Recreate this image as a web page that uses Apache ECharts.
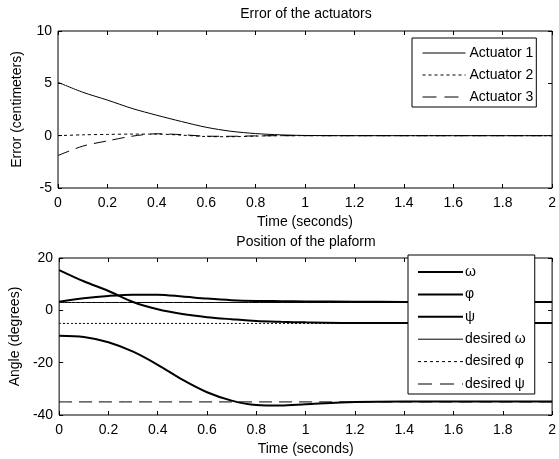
<!DOCTYPE html>
<html>
<head>
<meta charset="utf-8">
<script src="https://cdn.jsdelivr.net/npm/echarts@6/dist/echarts.min.js"></script>
<style>
  html, body { margin: 0; padding: 0; background: #fff; }
  #main { width: 559px; height: 459px; }
</style>
</head>
<body>
<div id="main"></div>
<script>
// time samples (seconds)
var times = [0, 0.1, 0.2, 0.3, 0.4, 0.5, 0.6, 0.7, 0.8, 0.9, 1.0, 1.2, 1.4, 1.6, 1.8, 2.0]

// top plot: actuator errors (cm)
var actuator1 = [5.1, 4.15, 3.4, 2.6, 1.95, 1.35, 0.8, 0.42, 0.2, 0.08, 0.02, 0, 0, 0, 0, 0]
var actuator2 = [0, 0.08, 0.12, 0.15, 0.15, 0.05, -0.08, -0.1, -0.04, 0, 0, 0, 0, 0, 0, 0]
var actuator3 = [-1.9, -1.0, -0.5, -0.05, 0.18, 0.1, -0.05, -0.06, -0.02, 0, 0, 0, 0, 0, 0, 0]

// bottom plot: platform angles (degrees)
var omega = [3.3, 4.6, 5.5, 6.0, 6.0, 5.3, 4.5, 3.9, 3.6, 3.5, 3.4, 3.3, 3.2, 3.2, 3.2, 3.2]
var phi = [15.4, 11.1, 7.4, 3.2, 0.4, -1.4, -2.6, -3.4, -4.1, -4.4, -4.6, -4.8, -4.8, -4.8, -4.8, -4.8]
var psi = [-9.7, -10.2, -12.2, -15.8, -20.8, -26.5, -31.3, -34.5, -36.2, -36.4, -35.9, -35.0, -34.8, -34.8, -34.8, -34.8]
var desiredOmega = 3
var desiredPhi = -5
var desiredPsi = -35

function pairs(vals) {
  return times.map(function (t, i) { return [t, vals[i]] })
}
function flat(v) {
  return [[0, v], [2, v]]
}

var font = 'Liberation Sans, Arial, sans-serif'
var txt = { color: '#000', fontFamily: font, fontSize: 14 }
var dotted = [3, 3]
var dashed = [14, 8]

function xAxisFor(gridIndex, pos, showLabel) {
  return {
    type: 'value', gridIndex: gridIndex, position: pos,
    min: 0, max: 2, interval: 0.2,
    name: showLabel ? 'Time (seconds)' : '', nameLocation: 'middle', nameGap: 27,
    nameTextStyle: txt,
    axisLine: { show: false, onZero: false },
    axisTick: { show: true, inside: true, length: 4, lineStyle: { color: '#000' } },
    axisLabel: { show: showLabel, color: '#000', fontFamily: font, fontSize: 14, margin: 8 },
    splitLine: { show: false }
  }
}
function yAxisFor(gridIndex, pos, min, max, step, name) {
  return {
    type: 'value', gridIndex: gridIndex, position: pos,
    min: min, max: max, interval: step,
    name: name, nameLocation: 'middle', nameGap: 34,
    nameTextStyle: txt,
    axisLine: { show: false, onZero: false },
    axisTick: { show: true, inside: true, length: 4, lineStyle: { color: '#000' } },
    axisLabel: { show: pos === 'left', color: '#000', fontFamily: font, fontSize: 14, margin: 6 },
    splitLine: { show: false }
  }
}

function line(name, vals, xi, yi, width, type) {
  return {
    name: name, type: 'line', xAxisIndex: xi, yAxisIndex: yi,
    data: vals, symbol: 'none', smooth: 0.3, color: '#000',
    lineStyle: { color: '#000', width: width, type: type }
  }
}
function legendItem(name, width, type) {
  return { name: name, lineStyle: { color: '#000', width: width, type: type } }
}

var myChart = echarts.init(document.getElementById('main'))
var option = {
  backgroundColor: '#fff',
  animation: false,
  title: [
    { text: 'Error of the actuators', left: 306, top: 7, padding: 0, textAlign: 'center',
      textStyle: { color: '#000', fontFamily: font, fontSize: 14, fontWeight: 'normal' } },
    { text: 'Position of the plaform', left: 306, top: 235, padding: 0, textAlign: 'center',
      textStyle: { color: '#000', fontFamily: font, fontSize: 14, fontWeight: 'normal' } }
  ],
  grid: [
    { left: 58, top: 31, width: 496, height: 157, show: true, borderColor: '#000', borderWidth: 1, backgroundColor: '#fff' },
    { left: 58, top: 258, width: 496, height: 157, show: true, borderColor: '#000', borderWidth: 1, backgroundColor: '#fff' }
  ],
  xAxis: [
    xAxisFor(0, 'bottom', true),
    xAxisFor(0, 'top', false),
    xAxisFor(1, 'bottom', true),
    xAxisFor(1, 'top', false)
  ],
  yAxis: [
    yAxisFor(0, 'left', -5, 10, 5, 'Error (centimeters)'),
    yAxisFor(0, 'right', -5, 10, 5, ''),
    yAxisFor(1, 'left', -40, 20, 20, 'Angle (degrees)'),
    yAxisFor(1, 'right', -40, 20, 20, '')
  ],
  legend: [
    {
      data: [
        legendItem('Actuator 1', 1, 'solid'),
        legendItem('Actuator 2', 1, dotted),
        legendItem('Actuator 3', 1, dashed)
      ],
      orient: 'vertical', left: 412, top: 38,
      itemWidth: 43, itemHeight: 14, itemGap: 8,
      padding: [8, 3, 3, 10],
      borderColor: '#000', borderWidth: 1, backgroundColor: '#fff',
      itemStyle: { opacity: 0 },
      textStyle: { color: '#000', fontFamily: font, fontSize: 14, padding: [0, 0, 0, -1] }
    },
    {
      data: [
        legendItem('ω', 2, 'solid'),
        legendItem('φ', 2, 'solid'),
        legendItem('ψ', 2, 'solid'),
        legendItem('desired ω', 1, 'solid'),
        legendItem('desired φ', 1, dotted),
        legendItem('desired ψ', 1, dashed)
      ],
      orient: 'vertical', left: 408, top: 255,
      itemWidth: 45, itemHeight: 14, itemGap: 8.4,
      padding: [10, 9, 3, 9],
      borderColor: '#000', borderWidth: 1, backgroundColor: '#fff',
      itemStyle: { opacity: 0 },
      textStyle: { color: '#000', fontFamily: font, fontSize: 14, padding: [0, 0, 0, -3] }
    }
  ],
  series: [
    line('Actuator 1', pairs(actuator1), 0, 0, 1, 'solid'),
    line('Actuator 2', pairs(actuator2), 0, 0, 1, dotted),
    line('Actuator 3', pairs(actuator3), 0, 0, 1, [12, 7]),
    line('desired ω', flat(desiredOmega), 2, 2, 1, 'solid'),
    line('desired φ', flat(desiredPhi), 2, 2, 1, [2, 2]),
    line('desired ψ', flat(desiredPsi), 2, 2, 1, [13, 7]),
    line('ω', pairs(omega), 2, 2, 2, 'solid'),
    line('φ', pairs(phi), 2, 2, 2, 'solid'),
    line('ψ', pairs(psi), 2, 2, 2, 'solid')
  ]
}
myChart.setOption(option)
</script>
</body>
</html>
